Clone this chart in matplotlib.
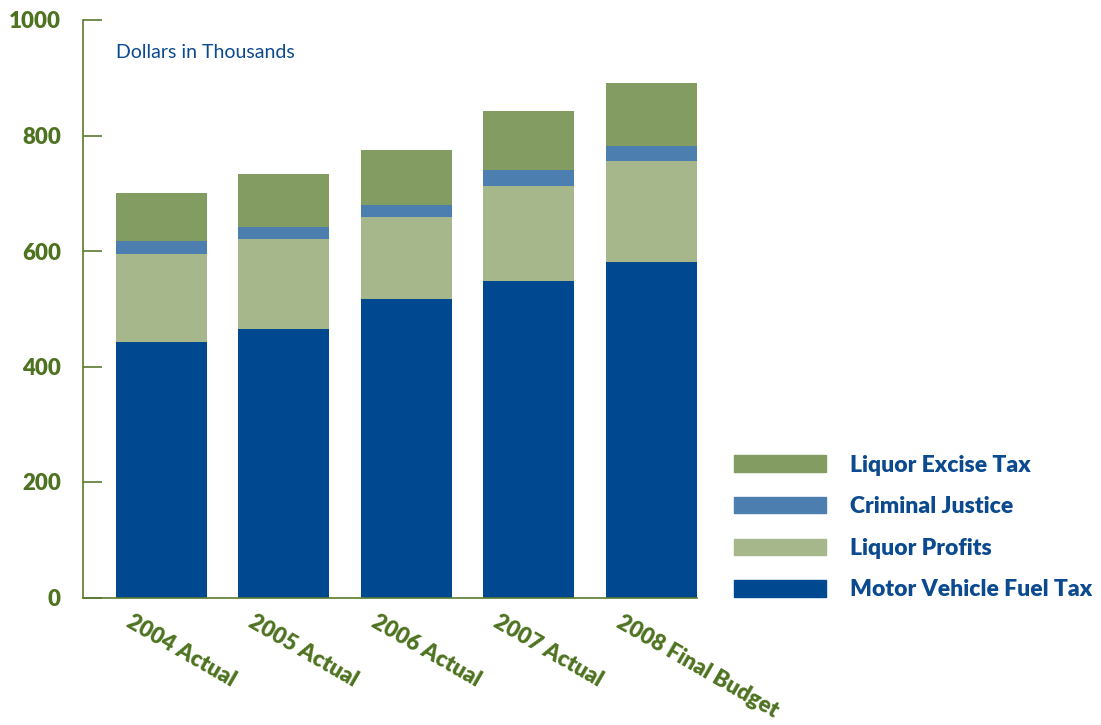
import matplotlib
matplotlib.use('Agg')
import matplotlib.pyplot as plt
import numpy as np
from matplotlib.patches import Patch
from matplotlib.transforms import ScaledTranslation

plt.rcParams['font.family'] = ['Lato', 'DejaVu Sans']

years = ['2004 Actual', '2005 Actual', '2006 Actual', '2007 Actual', '2008 Final Budget']
fuel_tax = [443, 465, 517, 548, 581]
liquor_profits = [152, 156, 142, 165, 175]
criminal_justice = [23, 21, 21, 27, 25]
excise_tax = [83, 91, 95, 102, 110]

green_txt = '#4E7320'
blue_txt = '#0B4A8E'
c_fuel = '#004990'
c_profit = '#A6B78B'
c_crim = '#4C7EB0'
c_excise = '#839C62'

fig = plt.figure(figsize=(11.01, 7.25), dpi=100)
ax = fig.add_axes([83 / 1101, 1 - 597.5 / 725, (697 - 83) / 1101, 577.5 / 725])

x = np.arange(len(years))
w = 0.743
b1 = np.array(fuel_tax)
b2 = b1 + np.array(liquor_profits)
b3 = b2 + np.array(criminal_justice)
ax.bar(x, fuel_tax, w, color=c_fuel)
ax.bar(x, liquor_profits, w, bottom=b1, color=c_profit)
ax.bar(x, criminal_justice, w, bottom=b2, color=c_crim)
ax.bar(x, excise_tax, w, bottom=b3, color=c_excise)

ax.set_xlim(-0.64, len(years) - 1 + w / 2)
ax.set_ylim(0, 1000)

for s in ['top', 'right']:
    ax.spines[s].set_visible(False)
for s in ['left', 'bottom']:
    ax.spines[s].set_color('#5A7A2E')
    ax.spines[s].set_linewidth(1.2)

yt = [0, 200, 400, 600, 800, 1000]
ax.set_yticks(yt)
ax.set_yticklabels([str(v) for v in yt], fontsize=16, fontweight='heavy', color=green_txt)
ax.tick_params(axis='y', direction='in', length=14, width=1.2, color='#5A7A2E', pad=16)

ax.set_xticks(x)
ax.set_xticklabels(years, rotation=-30, ha='left', va='top', rotation_mode='anchor',
                   fontsize=16, fontweight='heavy', color=green_txt)
ax.tick_params(axis='x', length=0, pad=10)
for lab in ax.get_xticklabels():
    lab.set_transform(lab.get_transform() + ScaledTranslation(-0.28, 0, fig.dpi_scale_trans))

ax.text(116 / 1101, 1 - 52 / 725, 'Dollars in Thousands', transform=fig.transFigure,
        fontsize=14, color=blue_txt, va='center', ha='left')

handles = [Patch(color=c_excise, label='Liquor Excise Tax'),
           Patch(color=c_crim, label='Criminal Justice'),
           Patch(color=c_profit, label='Liquor Profits'),
           Patch(color=c_fuel, label='Motor Vehicle Fuel Tax')]
leg = fig.legend(handles=handles, loc='lower left', bbox_to_anchor=(734 / 1101, 1 - 600.5 / 725),
                 frameon=False, fontsize=16.5, handlelength=4.0, handleheight=0.73,
                 labelspacing=0.9, handletextpad=1.05, borderaxespad=0, borderpad=0)
for t in leg.get_texts():
    t.set_color(blue_txt)
    t.set_fontweight('heavy')

fig.savefig('out.png', dpi=100)
